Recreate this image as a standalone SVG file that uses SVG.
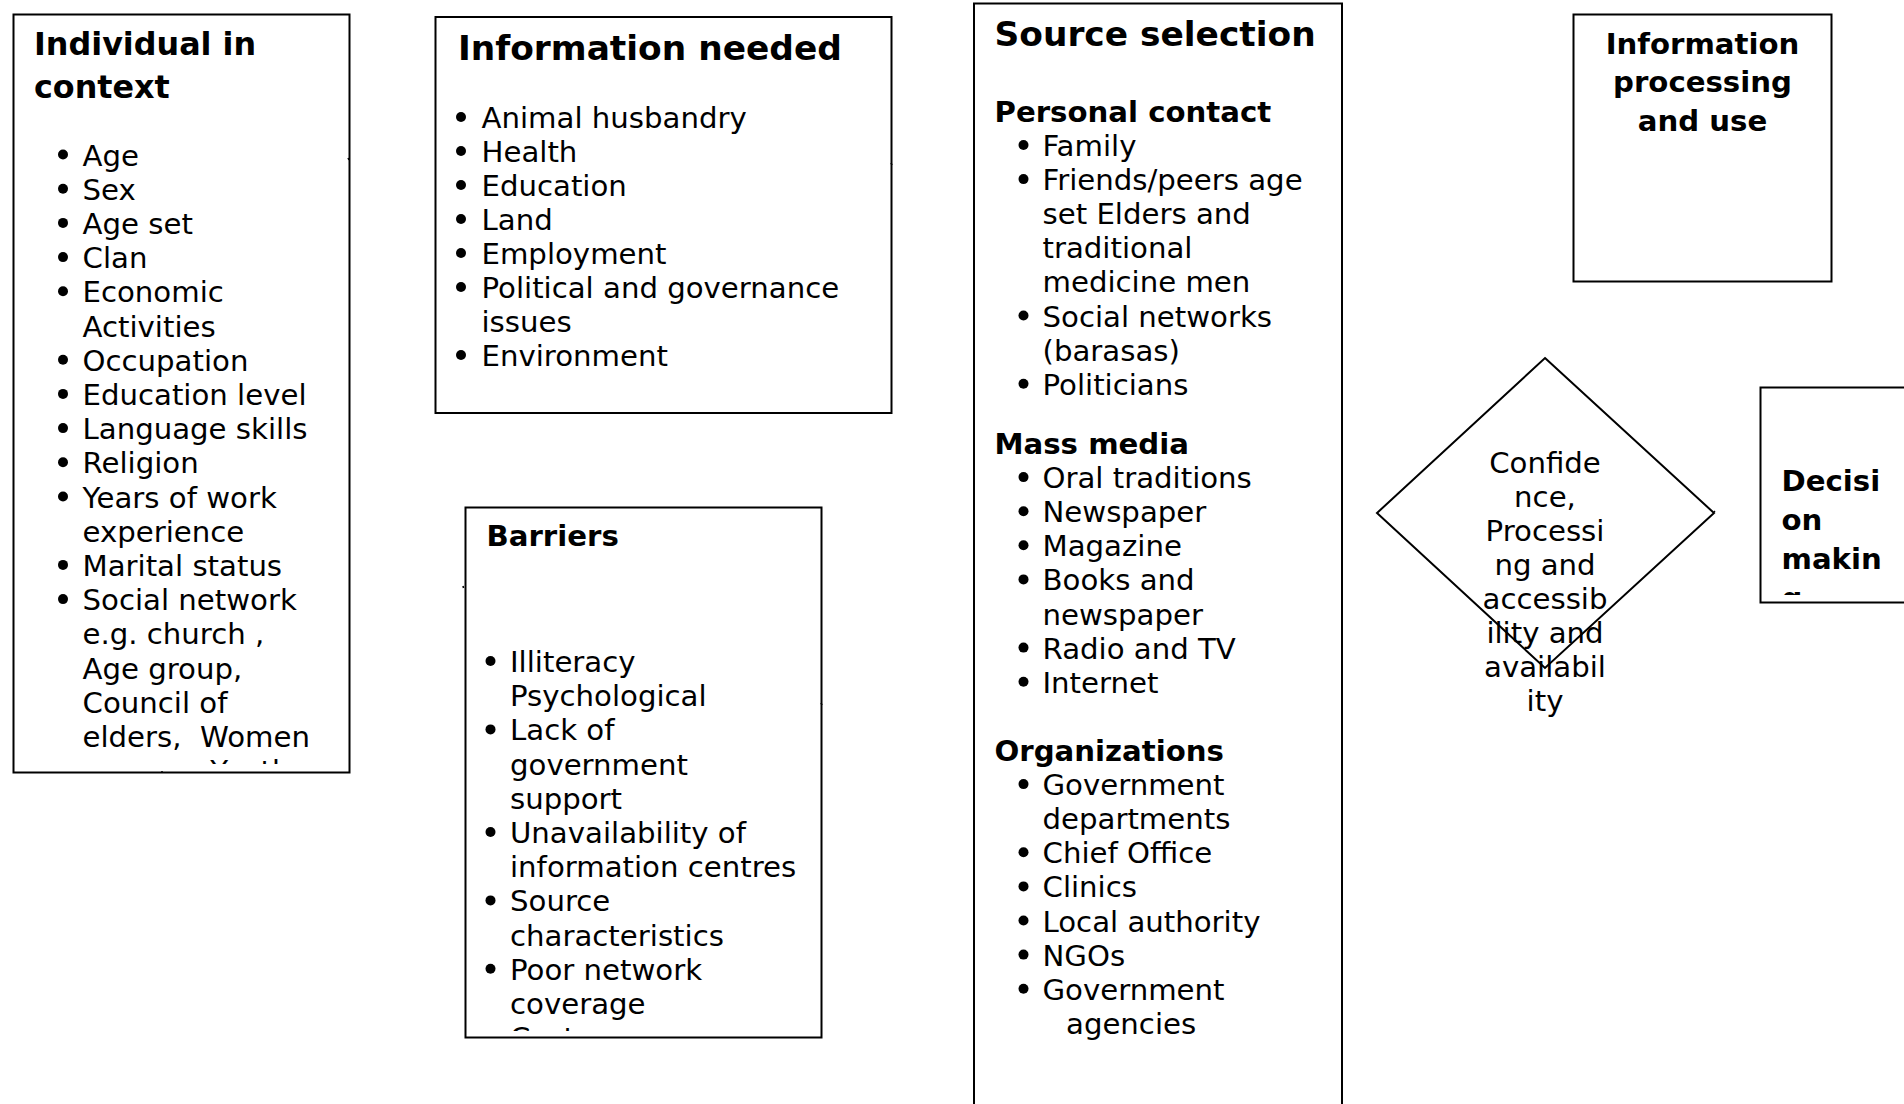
<svg xmlns="http://www.w3.org/2000/svg" width="1904" height="1104" viewBox="0 0 1904 1104">
<defs>
<style>
.box{fill:#fff;stroke:#000;stroke-width:2}
.t{font-family:"DejaVu Sans","Noto Sans",sans-serif;font-size:29.2px;fill:#000}
.b{font-weight:bold}
.h{font-size:34.4px}
.hc{text-anchor:middle}
.dot{fill:#000}
.stub{stroke:#000;stroke-width:1.5;fill:none}
</style>
<clipPath id="c1"><rect x="14" y="15" width="335" height="749"/></clipPath>
<clipPath id="c3"><rect x="466" y="508" width="355" height="523"/></clipPath>
<clipPath id="c6"><rect x="1761" y="388" width="200" height="207"/></clipPath>
</defs>
<rect width="1904" height="1104" fill="#fff"/>

<g id="individual-in-context">
<rect class="box" x="13.5" y="14.5" width="336" height="758"/>
<g clip-path="url(#c1)">
<text class="t b" x="34" y="55" style="font-size:31.8px">Individual in</text>
<text class="t b" x="34" y="98" style="font-size:31.8px">context</text>
<circle class="dot" cx="63" cy="154.5" r="5"/><text class="t" x="82.5" y="165.5">Age</text>
<circle class="dot" cx="63" cy="188.7" r="5"/><text class="t" x="82.5" y="199.7">Sex</text>
<circle class="dot" cx="63" cy="222.9" r="5"/><text class="t" x="82.5" y="233.9">Age set</text>
<circle class="dot" cx="63" cy="257.1" r="5"/><text class="t" x="82.5" y="268.1">Clan</text>
<circle class="dot" cx="63" cy="291.3" r="5"/><text class="t" x="82.5" y="302.3">Economic</text>
<text class="t" x="82.5" y="336.5">Activities</text>
<circle class="dot" cx="63" cy="359.7" r="5"/><text class="t" x="82.5" y="370.7">Occupation</text>
<circle class="dot" cx="63" cy="393.9" r="5"/><text class="t" x="82.5" y="404.9">Education level</text>
<circle class="dot" cx="63" cy="428.1" r="5"/><text class="t" x="82.5" y="439.1">Language skills</text>
<circle class="dot" cx="63" cy="462.3" r="5"/><text class="t" x="82.5" y="473.3">Religion</text>
<circle class="dot" cx="63" cy="496.5" r="5"/><text class="t" x="82.5" y="507.5">Years of work</text>
<text class="t" x="82.5" y="541.7">experience</text>
<circle class="dot" cx="63" cy="564.9" r="5"/><text class="t" x="82.5" y="575.9">Marital status</text>
<circle class="dot" cx="63" cy="599.1" r="5"/><text class="t" x="82.5" y="610.1">Social network</text>
<text class="t" x="82.5" y="644.3">e.g. church ,</text>
<text class="t" x="82.5" y="678.5">Age group,</text>
<text class="t" x="82.5" y="712.7">Council of</text>
<text class="t" x="82.5" y="746.9" xml:space="preserve">elders,  Women</text>
<text class="t" x="82.5" y="781.1" xml:space="preserve">groups,  Youth</text>
</g>
</g>

<g id="information-needed">
<rect class="box" x="435.5" y="17" width="456" height="396"/>
<text class="t b h" x="458" y="60">Information needed</text>
<circle class="dot" cx="461" cy="117" r="5"/><text class="t" x="481.5" y="128">Animal husbandry</text>
<circle class="dot" cx="461" cy="151" r="5"/><text class="t" x="481.5" y="162">Health</text>
<circle class="dot" cx="461" cy="185" r="5"/><text class="t" x="481.5" y="196">Education</text>
<circle class="dot" cx="461" cy="219" r="5"/><text class="t" x="481.5" y="230">Land</text>
<circle class="dot" cx="461" cy="253" r="5"/><text class="t" x="481.5" y="264">Employment</text>
<circle class="dot" cx="461" cy="287" r="5"/><text class="t" x="481.5" y="298">Political and governance</text>
<text class="t" x="481.5" y="332">issues</text>
<circle class="dot" cx="461" cy="355" r="5"/><text class="t" x="481.5" y="366">Environment</text>
</g>

<g id="barriers">
<rect class="box" x="465.5" y="507.5" width="356" height="530"/>
<g clip-path="url(#c3)">
<text class="t b" x="486.5" y="546">Barriers</text>
<circle class="dot" cx="490.5" cy="661" r="5"/><text class="t" x="510" y="672">Illiteracy</text>
<text class="t" x="510" y="706.2">Psychological</text>
<circle class="dot" cx="490.5" cy="729.4" r="5"/><text class="t" x="510" y="740.4">Lack of</text>
<text class="t" x="510" y="774.6">government</text>
<text class="t" x="510" y="808.8">support</text>
<circle class="dot" cx="490.5" cy="832" r="5"/><text class="t" x="510" y="843">Unavailability of</text>
<text class="t" x="510" y="877.2">information centres</text>
<circle class="dot" cx="490.5" cy="900.4" r="5"/><text class="t" x="510" y="911.4">Source</text>
<text class="t" x="510" y="945.6">characteristics</text>
<circle class="dot" cx="490.5" cy="968.8" r="5"/><text class="t" x="510" y="979.8">Poor network</text>
<text class="t" x="510" y="1014">coverage</text>
<text class="t" x="510" y="1048.2">Cost</text>
</g>
</g>

<g id="source-selection">
<rect class="box" x="974" y="3.5" width="368" height="1110"/>
<text class="t b h" x="994.5" y="46">Source selection</text>
<text class="t b" x="994.5" y="122">Personal contact</text>
<circle class="dot" cx="1023.5" cy="145" r="5"/><text class="t" x="1042.5" y="156">Family</text>
<circle class="dot" cx="1023.5" cy="179.1" r="5"/><text class="t" x="1042.5" y="190.1">Friends/peers age</text>
<text class="t" x="1042.5" y="224.2">set Elders and</text>
<text class="t" x="1042.5" y="258.3">traditional</text>
<text class="t" x="1042.5" y="292.4">medicine men</text>
<circle class="dot" cx="1023.5" cy="315.5" r="5"/><text class="t" x="1042.5" y="326.5">Social networks</text>
<text class="t" x="1042.5" y="360.6">(barasas)</text>
<circle class="dot" cx="1023.5" cy="383.7" r="5"/><text class="t" x="1042.5" y="394.7">Politicians</text>
<text class="t b" x="994.5" y="454">Mass media</text>
<circle class="dot" cx="1023.5" cy="477.1" r="5"/><text class="t" x="1042.5" y="488.1">Oral traditions</text>
<circle class="dot" cx="1023.5" cy="511.2" r="5"/><text class="t" x="1042.5" y="522.2">Newspaper</text>
<circle class="dot" cx="1023.5" cy="545.3" r="5"/><text class="t" x="1042.5" y="556.3">Magazine</text>
<circle class="dot" cx="1023.5" cy="579.4" r="5"/><text class="t" x="1042.5" y="590.4">Books and</text>
<text class="t" x="1042.5" y="624.5">newspaper</text>
<circle class="dot" cx="1023.5" cy="647.6" r="5"/><text class="t" x="1042.5" y="658.6">Radio and TV</text>
<circle class="dot" cx="1023.5" cy="681.7" r="5"/><text class="t" x="1042.5" y="692.7">Internet</text>
<text class="t b" x="994.5" y="761">Organizations</text>
<circle class="dot" cx="1023.5" cy="784.1" r="5"/><text class="t" x="1042.5" y="795.1">Government</text>
<text class="t" x="1042.5" y="829.2">departments</text>
<circle class="dot" cx="1023.5" cy="852.3" r="5"/><text class="t" x="1042.5" y="863.3">Chief Office</text>
<circle class="dot" cx="1023.5" cy="886.4" r="5"/><text class="t" x="1042.5" y="897.4">Clinics</text>
<circle class="dot" cx="1023.5" cy="920.5" r="5"/><text class="t" x="1042.5" y="931.5">Local authority</text>
<circle class="dot" cx="1023.5" cy="954.6" r="5"/><text class="t" x="1042.5" y="965.6">NGOs</text>
<circle class="dot" cx="1023.5" cy="988.7" r="5"/><text class="t" x="1042.5" y="999.7">Government</text>
<text class="t" x="1066" y="1033.8">agencies</text>
</g>

<g id="information-processing">
<rect class="box" x="1573.5" y="14.5" width="258" height="267"/>
<text class="t b hc" x="1702.5" y="53.5">Information</text>
<text class="t b hc" x="1702.5" y="92.3">processing</text>
<text class="t b hc" x="1702.5" y="131">and use</text>
</g>

<g id="confidence">
<polygon class="box" style="fill:none" points="1545,358 1714,513 1545,668 1377,513"/>
<text class="t hc" x="1545" y="473">Confide</text>
<text class="t hc" x="1545" y="507">nce,</text>
<text class="t hc" x="1545" y="541">Processi</text>
<text class="t hc" x="1545" y="575">ng and</text>
<text class="t hc" x="1545" y="609">accessib</text>
<text class="t hc" x="1545" y="643">ility and</text>
<text class="t hc" x="1545" y="677">availabil</text>
<text class="t hc" x="1545" y="711">ity</text>
</g>

<g id="decision-making">
<rect class="box" x="1760.5" y="387.5" width="200" height="215"/>
<g clip-path="url(#c6)">
<text class="t b" x="1781.5" y="491">Decisi</text>
<text class="t b" x="1781.5" y="530">on</text>
<text class="t b" x="1781.5" y="569">makin</text>
<text class="t b" x="1781.5" y="608">g</text>
</g>
</g>

<g id="connectors">
<line class="stub" x1="348" y1="158" x2="349" y2="160"/>
<line class="stub" x1="891" y1="163" x2="892" y2="165"/>
<line class="stub" x1="463" y1="586" x2="463.5" y2="588"/>
<line class="stub" x1="821" y1="703" x2="822" y2="705"/>
<line class="stub" x1="162" y1="771" x2="162" y2="773"/>
<line class="stub" x1="1714" y1="511" x2="1715" y2="512"/>
</g>
</svg>
